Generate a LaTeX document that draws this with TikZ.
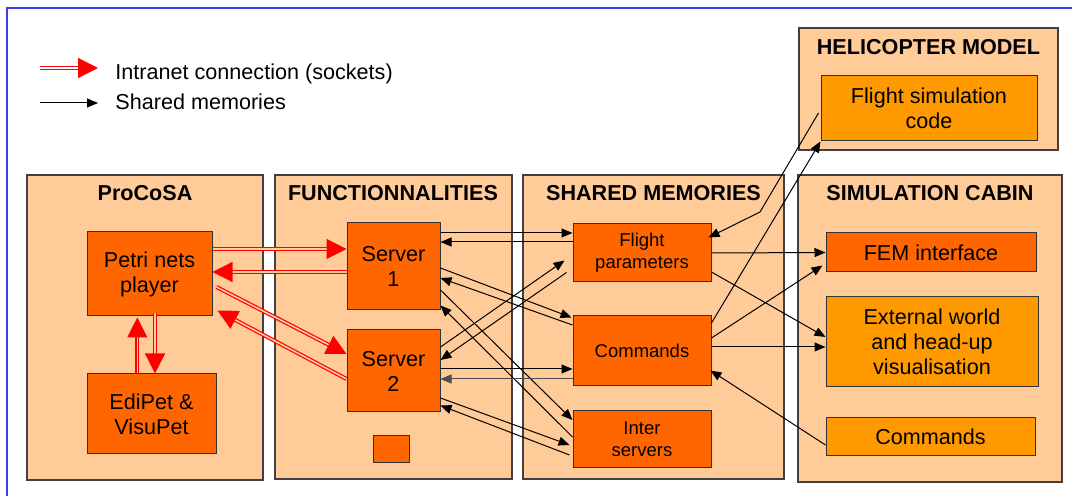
\documentclass[tikz,border=0pt]{standalone}
\usepackage{fontspec}
\setmainfont{Liberation Sans}
\usetikzlibrary{arrows.meta}
\definecolor{peach}{HTML}{FFCC99}
\definecolor{redorange}{HTML}{FF6600}
\definecolor{lightorange}{HTML}{FF9900}
\definecolor{frameblue}{HTML}{3C3CF0}
\tikzset{
  group/.style={draw=black!75, fill=peach, line width=0.6pt, inner sep=0pt},
  title/.style={font=\fontsize{10.8}{12.5}\selectfont\bfseries, anchor=base, inner sep=0pt},
  unit/.style={draw=black!80, fill=redorange, line width=0.5pt, inner sep=0pt, align=center,
    font=\fontsize{10.8}{12.5}\selectfont},
  smallunit/.style={unit, font=\fontsize{9.25}{11}\selectfont},
  cabunit/.style={unit, fill=lightorange},
  legtext/.style={font=\fontsize{10.8}{12.5}\selectfont, anchor=base west, inner sep=0pt},
  sock/.style={draw=red, double=peach, double distance=0.8pt, line width=0.6pt,
    -{Triangle[length=10pt,width=10pt]}},
  shm/.style={draw=black, line width=0.5pt, -{Triangle[length=5.5pt,width=4.5pt]}}
}
\begin{document}
\begin{tikzpicture}[x=0.5pt,y=-0.5pt]
\useasboundingbox (0,0) rectangle (1072,496);

 % frame
  \draw[frameblue, line width=1pt] (7,496) -- (7,8) -- (1072,8);

 % legend
\coordinate (leg1a) at (40,68);
\coordinate (leg1b) at (98,68);
\coordinate (leg2a) at (40,103);
\coordinate (leg2b) at (98,103);
\draw[sock, double=white] (leg1a) -- (leg1b);
\draw[shm] (leg2a) -- (leg2b);
\node[legtext] (legsock) at (115,80) {Intranet connection (sockets)};
\node[legtext] (legshm) at (115,109.5) {Shared memories};

 % groups
\node[group, minimum width=118pt, minimum height=152.5pt] (procosa) at (145,327.5) {};
\node[group, minimum width=118.5pt, minimum height=152pt] (func) at (393.5,327) {};
\node[group, minimum width=130.5pt, minimum height=152pt] (shared) at (653.5,327) {};
\node[group, minimum width=132pt, minimum height=153.5pt] (cabin) at (930,328.5) {};
\node[group, minimum width=129.5pt, minimum height=61pt] (heli) at (928.5,89) {};
\node[title] at (145,201) {ProCoSA};
\node[title] at (393,201) {FUNCTIONNALITIES};
\node[title] at (653.5,201) {SHARED MEMORIES};
\node[title] at (930,201) {SIMULATION CABIN};
\node[title] at (928.5,55) {HELICOPTER MODEL};

 % boxes
\node[unit, minimum width=62.5pt, minimum height=42pt] (petri) at (149.5,274) {Petri nets\\player};
\node[unit, minimum width=64.5pt, minimum height=40pt] (edipet) at (151.5,414) {EdiPet \&\\VisuPet};
\node[unit, minimum width=46.5pt, minimum height=43.5pt] (srv1) at (393.5,266.5) {Server\\1};
\node[unit, minimum width=46.5pt, minimum height=41pt] (srv2) at (393.5,371) {Server\\2};
\node[unit, minimum width=18pt, minimum height=13.5pt] (spare) at (391,449.5) {};
\node[smallunit, minimum width=69pt, minimum height=29pt] (fp) at (642,253) {Flight\\parameters};
\node[smallunit, minimum width=69pt, minimum height=35pt] (cmd) at (642,351) {Commands};
\node[smallunit, minimum width=69pt, minimum height=28.5pt] (inter) at (642,439.5) {Inter\\servers};
\node[unit, minimum width=105pt, minimum height=19.5pt] (fem) at (931,252.5) {FEM interface};
\node[cabunit, minimum width=106pt, minimum height=45pt] (ext) at (932,342) {External world\\and head-up\\visualisation};
\node[cabunit, minimum width=104.5pt, minimum height=19pt] (ccmd) at (930.5,437) {Commands};
\node[cabunit, minimum width=108pt, minimum height=32.5pt] (fsc) at (929,108.5) {Flight simulation\\code};

 % sockets
\draw[sock] ([yshift=12.5pt]petri.east) -- ([yshift=8.75pt]srv1.west);
\draw[sock] ([yshift=-2.75pt]srv1.west) -- ([yshift=1pt]petri.east);
\draw[sock] ([xshift=2pt,yshift=-6.5pt]petri.east) -- ([yshift=8.5pt]srv2.west);
\draw[sock] ([yshift=-4pt]srv2.west) -- ([xshift=2.5pt,yshift=3pt]petri.south east);
\draw[sock] ([xshift=2.75pt,yshift=1.5pt]petri.south) -- ([xshift=1.75pt]edipet.north);
\draw[sock] ([xshift=-7.1pt]edipet.north) -- ([xshift=-6.1pt,yshift=-0.5pt]petri.south);

 % shared memories
\draw[shm] ([yshift=16.75pt]srv1.east) -- ([yshift=10pt]fp.west);
\draw[shm] ([yshift=5.5pt]fp.west) -- ([yshift=12.25pt]srv1.east);
\draw[shm] ([yshift=-0.75pt]srv1.east) -- ([xshift=-0.5pt,yshift=-1pt]cmd.north west);
\draw[shm] ([yshift=13pt]cmd.west) -- ([yshift=-5.75pt]srv1.east);
\draw[shm] ([yshift=-11.75pt]srv1.east) -- ([yshift=9.75pt]inter.west);
\draw[shm] ([yshift=1.25pt]inter.west) -- ([yshift=2.5pt]srv1.south east);
\draw[shm] ([yshift=12pt]srv2.east) -- ([xshift=-4pt,yshift=11pt]fp.south west);
\draw[shm] ([xshift=-3pt,yshift=5pt]fp.south west) -- ([yshift=5.5pt]srv2.east);
\draw[shm] ([yshift=1pt]srv2.east) -- ([yshift=-9pt]cmd.west);
\draw[shm, draw=black!70] ([yshift=-14pt]cmd.west) -- ([yshift=-4pt]srv2.east);
\draw[shm] ([yshift=-13.5pt]srv2.east) -- ([xshift=-1.5pt,yshift=-2.75pt]inter.west);
\draw[shm] ([xshift=-1.5pt,yshift=-7.75pt]inter.west) -- ([yshift=3.5pt]srv2.south east);

\draw[shm] (fp.east) -- (fem.west);
\draw[shm] ([yshift=-9.5pt]fp.east) -- ([yshift=2.5pt]ext.west);
\draw[shm] ([yshift=2pt]cmd.east) -- ([yshift=-2.5pt]ext.west);
\draw[shm] ([yshift=6.5pt]cmd.east) -- ([xshift=-1.5pt,yshift=3.5pt]fem.south west);
\draw[shm] ([yshift=14pt]cmd.east) -- (fsc.south west);
\coordinate (bend) at (760,212);
\draw[shm] ([xshift=-1pt,yshift=-2.25pt]fsc.west) -- (bend) -- ([xshift=-1.5pt,yshift=-7pt]fp.north east);
\draw[shm] ([yshift=-4pt]ccmd.west) -- ([xshift=-0.5pt,yshift=8pt]cmd.south east);
\end{tikzpicture}
\end{document}
